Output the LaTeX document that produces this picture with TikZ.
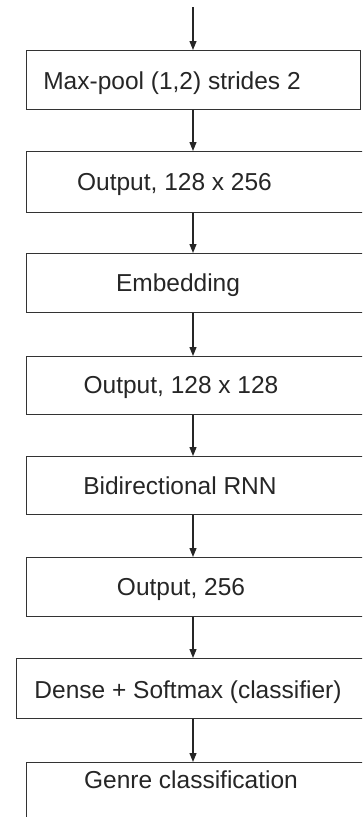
\documentclass[tikz,border=0pt]{standalone}
\usepackage{fontspec}
\setmainfont{Liberation Sans}
\usetikzlibrary{arrows.meta}
\begin{document}
\begin{tikzpicture}[x=1pt,y=-1pt,
  box/.style={draw=black!80, line width=1.3pt, fill=white, rectangle, inner sep=0pt, anchor=north west, minimum width=338pt},
  lbl/.style={font=\fontsize{24.5}{28}\selectfont, text=black!85, inner sep=0pt, anchor=base},
  arr/.style={draw=black!85, line width=1.2pt, -{Triangle[length=9pt,width=7pt]}}]
\useasboundingbox (0,0) rectangle (362,817);
\clip (0,0) rectangle (362,817);
\node[box, minimum width=334pt, minimum height=59pt] (b1) at (26,50) {};
\node[box, minimum height=61pt] (b2) at (26,151) {};
\node[box, minimum height=59pt] (b3) at (26,253) {};
\node[box, minimum height=58pt] (b4) at (26,356) {};
\node[box, minimum height=58pt] (b5) at (26,456) {};
\node[box, minimum height=59pt] (b6) at (26,557) {};
\node[box, minimum width=350pt, minimum height=60pt] (b7) at (16,658) {};
\node[box, minimum height=70pt] (b8) at (26,762) {};
\node[lbl] (t1) at (172,89) {Max-pool (1,2) strides 2};
\node[lbl] (t2) at (174.5,190.5) {Output, 128 x 256};
\node[lbl] (t3) at (178,291.5) {Embedding};
\node[lbl] (t4) at (181,393) {Output, 128 x 128};
\node[lbl] (t5) at (180,494) {Bidirectional RNN};
\node[lbl] (t6) at (181,595) {Output, 256};
\node[lbl] (t7) at (188,698) {Dense + Softmax (classifier)};
\node[lbl] (t8) at (191,788) {Genre classification};
\coordinate (start) at (193,7);
\draw[arr] (start) -- (b1.north -| start);
\draw[arr] (b1.south -| start) -- (b2.north -| start);
\draw[arr] (b2.south -| start) -- (b3.north -| start);
\draw[arr] (b3.south -| start) -- (b4.north -| start);
\draw[arr] (b4.south -| start) -- (b5.north -| start);
\draw[arr] (b5.south -| start) -- (b6.north -| start);
\draw[arr] (b6.south -| start) -- (b7.north -| start);
\draw[arr] (b7.south -| start) -- (b8.north -| start);
\end{tikzpicture}
\end{document}
